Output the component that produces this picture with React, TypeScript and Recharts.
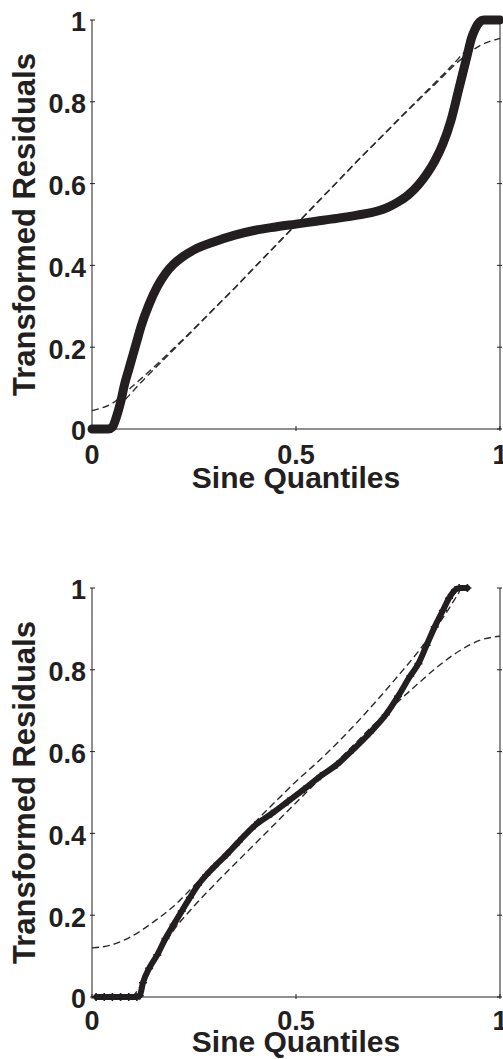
import React from 'react';
import { LineChart, Line, XAxis, YAxis, Label } from 'recharts';

const INK = '#231f20';
const FONT = '"Liberation Sans", Arial, Helvetica, sans-serif';

const xTicks = [0, 0.5, 1];
const yTicks = [0, 0.2, 0.4, 0.6, 0.8, 1];
const xTitle = 'Sine Quantiles';
const yTitle = 'Transformed Residuals';

// top panel: transformed residuals vs sine quantiles
const topCurveX = [0, 0.02, 0.04, 0.05, 0.06, 0.07, 0.08, 0.09, 0.1, 0.11, 0.12, 0.14, 0.16, 0.18, 0.2, 0.225, 0.25, 0.3, 0.35, 0.4, 0.45, 0.5, 0.55, 0.6, 0.65, 0.7, 0.725, 0.75, 0.775, 0.8, 0.82, 0.84, 0.86, 0.88, 0.9, 0.91, 0.92, 0.93, 0.94, 0.95, 0.96, 0.98, 1];
const topCurveY = [0, 0, 0, 0.005, 0.03, 0.065, 0.11, 0.145, 0.18, 0.215, 0.25, 0.305, 0.348, 0.38, 0.403, 0.423, 0.438, 0.458, 0.474, 0.486, 0.494, 0.501, 0.508, 0.515, 0.523, 0.533, 0.542, 0.555, 0.572, 0.597, 0.623, 0.655, 0.697, 0.755, 0.835, 0.875, 0.915, 0.955, 0.98, 0.995, 1, 1, 1];
const topUpperX = [0, 0.05, 0.1, 0.15, 0.2, 0.25, 0.3, 0.35, 0.4, 0.45, 0.5, 0.55, 0.6, 0.65, 0.7, 0.75, 0.8, 0.85, 0.9, 0.93, 0.955];
const topUpperY = [0.045, 0.063, 0.105, 0.15, 0.197, 0.245, 0.295, 0.345, 0.397, 0.449, 0.5, 0.552, 0.603, 0.655, 0.705, 0.756, 0.806, 0.856, 0.908, 0.945, 1];
const topLowerX = [0.045, 0.07, 0.1, 0.15, 0.2, 0.25, 0.3, 0.35, 0.4, 0.45, 0.5, 0.55, 0.6, 0.65, 0.7, 0.75, 0.8, 0.85, 0.9, 0.95, 1];
const topLowerY = [0, 0.055, 0.092, 0.144, 0.194, 0.244, 0.295, 0.345, 0.397, 0.448, 0.5, 0.551, 0.603, 0.655, 0.705, 0.755, 0.804, 0.852, 0.9, 0.937, 0.955];

// bottom panel
const botCurveX = [0.01, 0.03, 0.05, 0.07, 0.09, 0.11, 0.117, 0.125, 0.14, 0.16, 0.18, 0.2, 0.22, 0.24, 0.26, 0.28, 0.3, 0.33, 0.36, 0.4, 0.44, 0.48, 0.52, 0.56, 0.6, 0.64, 0.68, 0.72, 0.75, 0.78, 0.8, 0.82, 0.84, 0.86, 0.875, 0.89, 0.9, 0.92];
const botCurveY = [0, 0, 0, 0, 0, 0, 0.003, 0.035, 0.07, 0.103, 0.143, 0.177, 0.21, 0.243, 0.274, 0.298, 0.319, 0.348, 0.38, 0.42, 0.448, 0.478, 0.508, 0.54, 0.568, 0.605, 0.645, 0.69, 0.735, 0.785, 0.815, 0.86, 0.905, 0.945, 0.975, 0.995, 1, 1];
const botUpperX = [0, 0.05, 0.1, 0.15, 0.2, 0.25, 0.3, 0.35, 0.4, 0.45, 0.5, 0.55, 0.6, 0.65, 0.7, 0.75, 0.8, 0.85, 0.88, 0.9];
const botUpperY = [0.12, 0.128, 0.15, 0.183, 0.222, 0.272, 0.325, 0.377, 0.428, 0.478, 0.527, 0.572, 0.62, 0.672, 0.727, 0.785, 0.845, 0.912, 0.958, 0.99];
const botLowerX = [0.1, 0.13, 0.16, 0.2, 0.25, 0.3, 0.35, 0.4, 0.45, 0.5, 0.55, 0.6, 0.65, 0.7, 0.75, 0.8, 0.85, 0.9, 0.95, 1];
const botLowerY = [0, 0.045, 0.1, 0.163, 0.222, 0.275, 0.325, 0.375, 0.425, 0.475, 0.525, 0.575, 0.625, 0.675, 0.722, 0.767, 0.81, 0.846, 0.872, 0.882];

const zip = (xs: number[], ys: number[]) => xs.map((x, i) => ({ x, y: ys[i] }));

// plot box inside each chart
const W = 503;
const H = 530;
const LEFT = 92;
const TOP = 20;
const BOTTOM = 429;
const RIGHT = 500;

const txt = { fontFamily: FONT, fontWeight: 'bold' as const, fill: INK };

const makeBottomTick = (off: number) => ({ x, y, payload }: any) => (
  <g>
    <line x1={x} y1={y} x2={x} y2={y - 5} stroke={INK} />
    <text x={x} y={y + off} textAnchor="middle" fontSize={27} {...txt}>{payload.value}</text>
  </g>
);
const TopTick = ({ x, y }: any) => <line x1={x} y1={y} x2={x} y2={y + 5} stroke={INK} />;
const LeftTick = ({ x, y, payload }: any) => (
  <g>
    <line x1={x} y1={y} x2={x + 5} y2={y} stroke={INK} />
    <text x={x - 4} y={y + 2} dy="0.35em" textAnchor="end" fontSize={27} {...txt}>{payload.value}</text>
  </g>
);
const RightTick = ({ x, y }: any) => <line x1={x} y1={y} x2={x - 5} y2={y} stroke={INK} />;

const PlusDot = (p: any) => (
  <path key={p.index} d={`M${p.cx - 4},${p.cy}h8M${p.cx},${p.cy - 4}v8`} stroke={INK} strokeWidth={1.6} fill="none" />
);

function Panel({ curve, upper, lower, thick, plus, tickOff, titleOff }: any) {
  return (
    <LineChart width={W} height={H} margin={{ top: TOP, right: 0, bottom: 0, left: 0 }}>
      <XAxis xAxisId="b" type="number" dataKey="x" domain={[0, 1]} ticks={xTicks} interval={0}
        height={H - BOTTOM} tickSize={0} tickLine={false} axisLine={{ stroke: INK }} tick={makeBottomTick(tickOff)}>
        <Label content={() => (
          <text x={(LEFT + RIGHT) / 2} y={BOTTOM + titleOff} textAnchor="middle" fontSize={30} {...txt}>{xTitle}</text>
        )} />
      </XAxis>
      <XAxis xAxisId="t" orientation="top" type="number" domain={[0, 1]} ticks={xTicks} interval={0}
        allowDataOverflow height={0} tickSize={0} tickLine={false} axisLine={{ stroke: INK }} tick={TopTick} />
      <YAxis yAxisId="l" type="number" domain={[0, 1]} ticks={yTicks} interval={0}
        width={LEFT} tickSize={0} tickLine={false} axisLine={{ stroke: INK }} tick={LeftTick}>
        <Label content={() => (
          <text x={35} y={(TOP + BOTTOM) / 2} transform={`rotate(-90 35 ${(TOP + BOTTOM) / 2})`}
            textAnchor="middle" fontSize={31} {...txt}>{yTitle}</text>
        )} />
      </YAxis>
      <YAxis yAxisId="r" orientation="right" type="number" domain={[0, 1]} ticks={yTicks} interval={0}
        allowDataOverflow width={W - RIGHT} tickSize={0} tickLine={false} axisLine={{ stroke: INK }} tick={RightTick} />
      <Line xAxisId="b" yAxisId="l" data={upper} dataKey="y" type="monotone" stroke="#2b2b2b"
        strokeWidth={1.4} strokeDasharray="7 4" dot={false} isAnimationActive={false} />
      <Line xAxisId="b" yAxisId="l" data={lower} dataKey="y" type="monotone" stroke="#2b2b2b"
        strokeWidth={1.4} strokeDasharray="7 4" dot={false} isAnimationActive={false} />
      <Line xAxisId="b" yAxisId="l" data={curve} dataKey="y" type="monotone" stroke={INK}
        strokeWidth={thick} strokeLinecap="round" strokeLinejoin="round"
        dot={plus ? PlusDot : false} isAnimationActive={false} />
    </LineChart>
  );
}

export default function App() {
  return (
    <div style={{ position: 'absolute', left: 0, top: 0, width: W, height: 1059, overflow: 'hidden', background: '#fff' }}>
      <div style={{ position: 'absolute', left: 0, top: 0 }}>
        <Panel curve={zip(topCurveX, topCurveY)} upper={zip(topUpperX, topUpperY)} lower={zip(topLowerX, topLowerY)}
          thick={9} tickOff={33} titleOff={59} />
      </div>
      <div style={{ position: 'absolute', left: 0, top: 568 }}>
        <Panel curve={zip(botCurveX, botCurveY)} upper={zip(botUpperX, botUpperY)} lower={zip(botLowerX, botLowerY)}
          thick={6} plus tickOff={31} titleOff={55} />
      </div>
    </div>
  );
}
